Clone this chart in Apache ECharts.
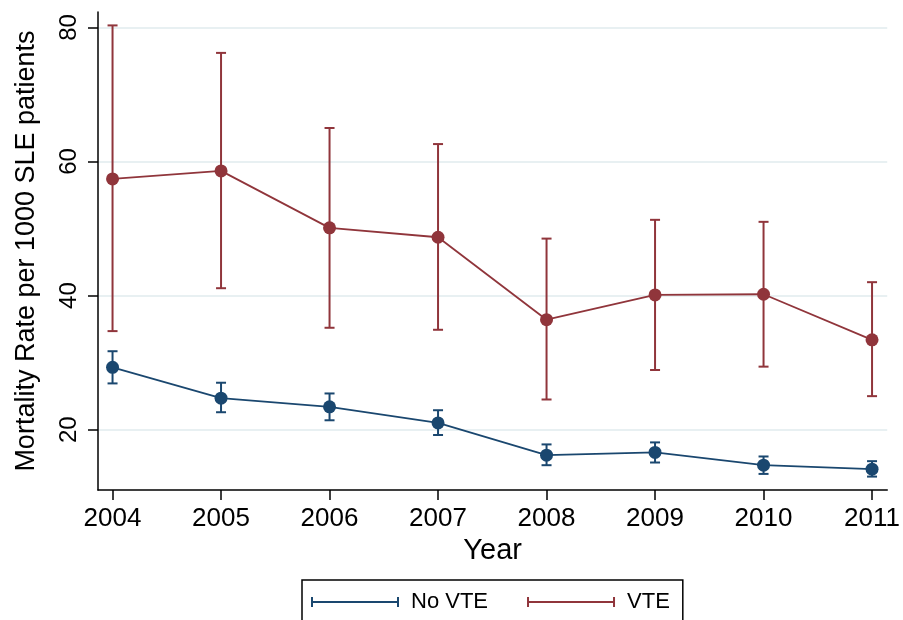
<!DOCTYPE html>
<html>
<head>
<meta charset="utf-8">
<script src="https://cdn.jsdelivr.net/npm/echarts@6/dist/echarts.min.js"></script>
<style>html,body{margin:0;padding:0;background:#fff}#c{width:903px;height:620px}</style>
</head>
<body>
<div id="c"></div>
<script>
var years = [2004, 2005, 2006, 2007, 2008, 2009, 2010, 2011];
var yTicks = [20, 40, 60, 80];
var noVteMean = [29.3, 24.7, 23.4, 21.0, 16.2, 16.6, 14.7, 14.1];
var noVteLow  = [26.9, 22.6, 21.4, 19.2, 14.7, 15.1, 13.4, 13.0];
var noVteHigh = [31.7, 27.0, 25.4, 22.9, 17.8, 18.1, 16.0, 15.3];
var vteMean = [57.4, 58.6, 50.1, 48.7, 36.4, 40.1, 40.2, 33.4];
var vteLow  = [34.7, 41.1, 35.2, 34.9, 24.5, 28.9, 29.4, 25.0];
var vteHigh = [80.3, 76.2, 65.0, 62.6, 48.5, 51.3, 51.0, 42.0];

var BLUE = '#1a476f', RED = '#90353b';
var FONT = '"Liberation Sans", Arial, sans-serif';

function pairs(a){ return years.map(function(y,i){ return [y, a[i]]; }); }
function bars(lo, hi){ return years.map(function(y,i){ return [y, lo[i], hi[i]]; }); }

function errRender(color){
  return function(params, api){
    var x = api.value(0);
    var p1 = api.coord([x, api.value(1)]);
    var p2 = api.coord([x, api.value(2)]);
    var hw = 5;
    var st = {stroke: color, lineWidth: 2};
    return {type:'group', children:[
      {type:'line', shape:{x1:p1[0], y1:p1[1], x2:p2[0], y2:p2[1]}, style:st},
      {type:'line', shape:{x1:p1[0]-hw, y1:p1[1], x2:p1[0]+hw, y2:p1[1]}, style:st},
      {type:'line', shape:{x1:p2[0]-hw, y1:p2[1], x2:p2[0]+hw, y2:p2[1]}, style:st}
    ]};
  };
}

var icon = 'path://M0,0h2v10h-2z M0,4h88v2h-88z M86,0h2v10h-2z';

var chart = echarts.init(document.getElementById('c'));
chart.setOption({
  animation: false,
  backgroundColor: '#fff',
  textStyle: {fontFamily: FONT},
  grid: {left: 98, right: 14, top: 12, bottom: 130, containLabel: false},
  legend: {
    left: 302, top: 580,
    padding: [11, 13, 30, 9],
    borderColor: '#000', borderWidth: 1.5,
    itemWidth: 88, itemHeight: 10, itemGap: 39,
    textStyle: {fontSize: 22, color: '#000', fontFamily: FONT, padding: [0, 0, 0, 7]},
    data: [
      {name: 'No VTE', icon: icon, itemStyle: {color: BLUE}},
      {name: 'VTE', icon: icon, itemStyle: {color: RED}}
    ]
  },
  xAxis: {
    type: 'value', min: 2003.866, max: 2011.14,
    name: 'Year', nameLocation: 'middle', nameGap: 45,
    nameTextStyle: {fontSize: 29, color: '#000', fontFamily: FONT},
    axisLine: {show: true, onZero: false, lineStyle: {color: '#000', width: 1.5}},
    axisTick: {show: true, length: 10, lineStyle: {color: '#000', width: 1.5}, customValues: years},
    axisLabel: {fontSize: 26, color: '#000', margin: 16, customValues: years, formatter: function(v){return String(v);}},
    splitLine: {show: false}
  },
  yAxis: {
    type: 'value', min: 11.0, max: 82.3,
    name: 'Mortality Rate per 1000 SLE patients', nameLocation: 'middle', nameGap: 58,
    nameTextStyle: {fontSize: 27, color: '#000', fontFamily: FONT},
    axisLine: {show: true, onZero: false, lineStyle: {color: '#000', width: 1.5}},
    axisTick: {show: true, length: 10, lineStyle: {color: '#000', width: 1.5}, customValues: yTicks},
    axisLabel: {fontSize: 24, color: '#000', margin: 17, rotate: 90, customValues: yTicks},
    splitLine: {show: true, lineStyle: {color: '#e8f0f2', width: 2}}
  },
  series: [
    {name: 'No VTE', type: 'line', data: pairs(noVteMean), symbol: 'circle', symbolSize: 13,
     itemStyle: {color: BLUE}, lineStyle: {color: BLUE, width: 1.8}, z: 3},
    {name: 'VTE', type: 'line', data: pairs(vteMean), symbol: 'circle', symbolSize: 13,
     itemStyle: {color: RED}, lineStyle: {color: RED, width: 1.8}, z: 3},
    {name: 'No VTE', type: 'custom', data: bars(noVteLow, noVteHigh), renderItem: errRender(BLUE),
     encode: {x: 0, y: [1, 2]}, z: 2},
    {name: 'VTE', type: 'custom', data: bars(vteLow, vteHigh), renderItem: errRender(RED),
     encode: {x: 0, y: [1, 2]}, z: 2}
  ]
});
</script>
</body>
</html>
